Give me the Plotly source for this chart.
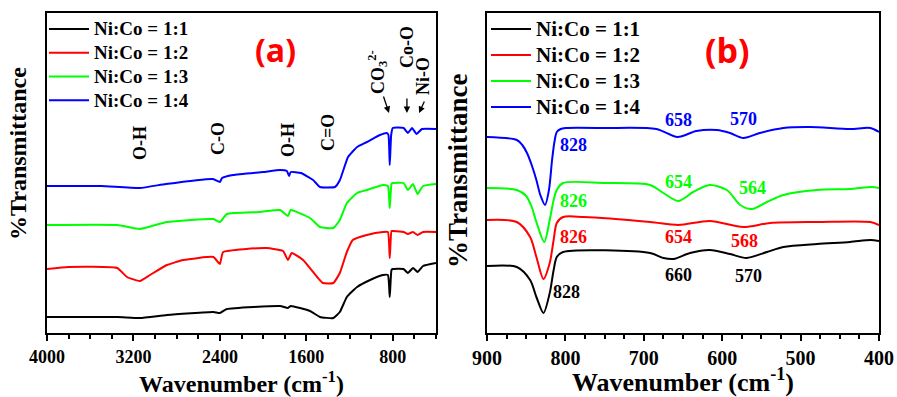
import plotly.graph_objects as go

# ---------------- Panel (a): full range 4000-400 cm-1 (arbitrary %T units) ----------------
a_11_wn = [4000, 3350, 3140, 2890, 2460, 2400, 2335, 1843, 1770, 1745, 1566, 1474, 1350, 1290, 1225, 1130, 1010, 890, 845, 828, 812, 800, 700, 660, 613, 570, 520, 400]
a_11_T  = [16, 16, 15, 18, 21, 20, 24, 27, 25, 27, 22, 16, 15, 21, 36, 46, 53, 58, 58, 36, 63, 64, 64, 60, 65, 61, 67, 70]

a_12_wn = [4000, 3800, 3350, 3260, 3140, 3047, 2890, 2740, 2460, 2400, 2370, 1970, 1815, 1770, 1735, 1630, 1500, 1446, 1350, 1290, 1225, 1170, 1040, 890, 845, 828, 812, 800, 700, 660, 613, 570, 520, 400]
a_12_T  = [64, 66, 65, 56, 52, 58, 68, 73, 76, 69, 81, 85, 82, 73, 80, 73, 56, 50, 50, 60, 81, 93, 98, 101, 101, 75, 102, 102, 101, 99, 101, 98, 101, 101]

a_13_wn = [4000, 3350, 3140, 2890, 2460, 2400, 2335, 2030, 1843, 1770, 1745, 1566, 1474, 1350, 1290, 1225, 1130, 1040, 890, 845, 828, 812, 800, 700, 660, 613, 570, 520, 400]
a_13_T  = [108, 108, 104, 111, 114, 111, 119, 121, 123, 117, 123, 115, 106, 105, 113, 130, 140, 143, 148, 147, 125, 149, 150, 150, 143, 149, 139, 147, 149]

a_14_wn = [4000, 3500, 3140, 2900, 2464, 2400, 2380, 2278, 2000, 1843, 1780, 1760, 1745, 1650, 1537, 1474, 1335, 1289, 1214, 1130, 1040, 919, 855, 840, 828, 815, 800, 700, 660, 622, 580, 530, 400]
a_14_T  = [147, 147, 145, 149, 154, 151, 155, 158, 161, 163, 162, 157, 161, 160, 153, 146, 146, 153, 176, 186, 191, 198, 200, 198, 168, 198, 205, 205, 200, 205, 199, 204, 204]

# ---------------- Panel (b): 900-400 cm-1 ----------------
b_11_wn = [900, 862, 845, 837, 828, 820, 815, 811, 803, 692, 675, 662, 641, 616, 590, 569, 543, 522, 479, 437, 411, 400]
b_11_T  = [67, 66, 53, 36, 20, 40, 63, 76, 81, 80, 75, 74, 80, 83, 79, 75, 81, 86, 89, 91, 93, 92]

b_12_wn = [900, 862, 845, 837, 828, 820, 815, 811, 803, 777, 692, 656, 616, 573, 539, 479, 411, 400]
b_12_T  = [113, 111, 96, 76, 54, 70, 93, 110, 116, 116, 111, 108, 112, 106, 110, 111, 111, 108]

b_13_wn = [900, 862, 850, 843, 837, 827, 820, 815, 811, 803, 750, 692, 675, 656, 637, 616, 594, 577, 562, 543, 522, 479, 437, 409, 400]
b_13_T  = [145, 143, 137, 126, 111, 91, 113, 133, 143, 150, 150, 148, 140, 132, 141, 148, 143, 128, 124, 131, 138, 143, 144, 146, 145]

b_14_wn = [900, 862, 855, 849, 843, 837, 832, 826, 821, 817, 814, 811, 806, 800, 750, 684, 657, 633, 607, 590, 573, 552, 522, 488, 437, 411, 400]
b_14_T  = [196, 193, 188, 180, 168, 153, 138, 128, 143, 173, 191, 201, 204, 205, 205, 204, 196, 202, 203, 200, 195, 200, 205, 206, 204, 205, 201]

series_names = ["Ni:Co = 1:1", "Ni:Co = 1:2", "Ni:Co = 1:3", "Ni:Co = 1:4"]
series_colors = ["#000000", "#ff0000", "#00ff00", "#0000ff"]

a_x_ticks = [4000, 3200, 2400, 1600, 800]
b_x_ticks = [900, 800, 700, 600, 500, 400]

# peak labels for panel (b): (text, wn, T, color index)
b_peak_labels = [
    ("658", 656, 213, 3), ("570", 573, 214, 3), ("828", 790, 188, 3),
    ("654", 656, 151, 2), ("564", 561, 145, 2), ("826", 790, 132, 2),
    ("826", 790, 96, 1), ("654", 656, 96, 1), ("568", 571, 92, 1),
    ("660", 656, 58, 0), ("570", 566, 57, 0), ("828", 798, 41, 0),
]
# band labels for panel (a): (text, wn, T)
a_band_labels = [("O-H", 3139, 190), ("C-O", 2418, 195), ("O-H", 1770, 193), ("C=O", 1400, 201)]

W, H = 897, 397
SERIF = "Liberation Serif"

fig = go.Figure()

a_sets = [(a_11_wn, a_11_T), (a_12_wn, a_12_T), (a_13_wn, a_13_T), (a_14_wn, a_14_T)]
b_sets = [(b_11_wn, b_11_T), (b_12_wn, b_12_T), (b_13_wn, b_13_T), (b_14_wn, b_14_T)]

for i, (xs, ys) in enumerate(a_sets):
    fig.add_trace(go.Scatter(x=xs, y=ys, mode="lines",
                             name='<span style="font-size:19px">' + series_names[i] + '</span>',
                             line=dict(color=series_colors[i], width=2, shape="spline", smoothing=0.4),
                             xaxis="x", yaxis="y", legend="legend"))
for i, (xs, ys) in enumerate(b_sets):
    fig.add_trace(go.Scatter(x=xs, y=ys, mode="lines",
                             name='<span style="font-size:21px">' + series_names[i] + '</span>',
                             line=dict(color=series_colors[i], width=2, shape="spline", smoothing=0.8),
                             xaxis="x2", yaxis="y2", legend="legend2"))

def xpx(p):
    return p / W

def ypx(p):
    return 1 - p / H

common_x = dict(showline=True, linecolor="black", linewidth=2, mirror=True, showgrid=False,
                zeroline=False, ticks="outside", ticklen=6, tickwidth=2, tickcolor="black",
                automargin=False)
common_y = dict(showline=True, linecolor="black", linewidth=2, mirror=True, showgrid=False,
                zeroline=False, showticklabels=False, ticks="", range=[0, 320], automargin=False)

fig.update_layout(
    width=W, height=H, margin=dict(l=0, r=0, t=0, b=0, autoexpand=False),
    paper_bgcolor="white", plot_bgcolor="white",
    xaxis=dict(domain=[xpx(47), xpx(436)], range=[4000, 400], tickvals=a_x_ticks,
               minor=dict(dtick=200, ticks="outside", ticklen=4, tickwidth=1.5, tickcolor="black"),
               tickfont=dict(family=SERIF, size=18, color="black", weight="bold"),
               title=dict(text="Wavenumber (cm<sup>-1</sup>)", standoff=4,
                          font=dict(family=SERIF, size=24, color="black", weight="bold")),
               anchor="y", **common_x),
    yaxis=dict(domain=[ypx(333), ypx(13)], anchor="x", **common_y),
    xaxis2=dict(domain=[xpx(487), xpx(879)], range=[900, 400], tickvals=b_x_ticks,
                minor=dict(dtick=25, ticks="outside", ticklen=4, tickwidth=1.5, tickcolor="black"),
                tickfont=dict(family=SERIF, size=20, color="black", weight="bold"),
                title=dict(text="Wavenumber (cm<sup>-1</sup>)", standoff=2,
                           font=dict(family=SERIF, size=26, color="black", weight="bold")),
                anchor="y2", **common_x),
    yaxis2=dict(domain=[ypx(333), ypx(13)], anchor="x2", **common_y),
    legend=dict(x=xpx(44), y=ypx(12), xanchor="left", yanchor="top", bgcolor="rgba(0,0,0,0)",
                font=dict(family=SERIF, size=16, color="black", weight="bold"),
                itemwidth=40, tracegroupgap=0),
    legend2=dict(x=xpx(486), y=ypx(11), xanchor="left", yanchor="top", bgcolor="rgba(0,0,0,0)",
                 font=dict(family=SERIF, size=17.7, color="black", weight="bold"),
                 itemwidth=40, tracegroupgap=0),
    showlegend=True,
)

ann = []
# y-axis titles
ann.append(dict(text="%Transmittance", x=xpx(18), y=ypx(154), xref="paper", yref="paper",
                xanchor="center", yanchor="middle", showarrow=False, textangle=-90,
                font=dict(family=SERIF, size=24, color="black", weight="bold")))
ann.append(dict(text="%Transmittance", x=xpx(458), y=ypx(171), xref="paper", yref="paper",
                xanchor="center", yanchor="middle", showarrow=False, textangle=-90,
                font=dict(family=SERIF, size=27, color="black", weight="bold")))
# panel labels
ann.append(dict(text="(a)", x=xpx(275), y=ypx(50), xref="paper", yref="paper", showarrow=False,
                xanchor="center", yanchor="middle",
                font=dict(family="Open Sans", size=32, color="#ff0000", weight="bold")))
ann.append(dict(text="(b)", x=xpx(727), y=ypx(50), xref="paper", yref="paper", showarrow=False,
                xanchor="center", yanchor="middle",
                font=dict(family="Open Sans", size=34, color="#ff0000", weight="bold")))
# band labels panel (a)
for t, xv, yv in a_band_labels:
    ann.append(dict(text=t, x=xv, y=yv, xref="x", yref="y", showarrow=False, textangle=-90,
                    xanchor="center", yanchor="middle",
                    font=dict(family=SERIF, size=18, color="black", weight="bold")))
# CO3 2-, Co-O, Ni-O with arrows
ann.append(dict(text="CO<sub>3</sub><sup>2-</sup>", x=946, y=261, xref="x", yref="y", showarrow=False,
                xanchor="center", yanchor="middle",
                textangle=-90, font=dict(family=SERIF, size=18, color="black", weight="bold")))
ann.append(dict(text="Co-O", x=669, y=286, xref="x", yref="y", showarrow=False,
                xanchor="center", yanchor="middle",
                textangle=-90, font=dict(family=SERIF, size=18, color="black", weight="bold")))
ann.append(dict(text="Ni-O", x=520, y=257, xref="x", yref="y", showarrow=False,
                xanchor="center", yanchor="middle",
                textangle=-90, font=dict(family=SERIF, size=18, color="black", weight="bold")))
for hx, hy, axp, ayp in [(835, 220, -6, -18), (669, 220, 0, -16), (557, 220, 6, -13)]:
    ann.append(dict(text="", x=hx, y=hy, xref="x", yref="y", showarrow=True, ax=axp, ay=ayp,
                    arrowhead=2, arrowsize=1, arrowwidth=1.3, arrowcolor="black"))
# peak labels panel (b)
for t, xv, yv, ci in b_peak_labels:
    ann.append(dict(text=t, x=xv, y=yv, xref="x2", yref="y2", showarrow=False,
                    xanchor="center", yanchor="middle",
                    font=dict(family=SERIF, size=18, color=series_colors[ci], weight="bold")))

fig.update_layout(annotations=ann)
fig.write_html("out.html", config={"displayModeBar": False},
               post_script="document.body.style.margin='0';document.body.style.padding='0';"
                           "window.dispatchEvent(new Event('resize'));")
